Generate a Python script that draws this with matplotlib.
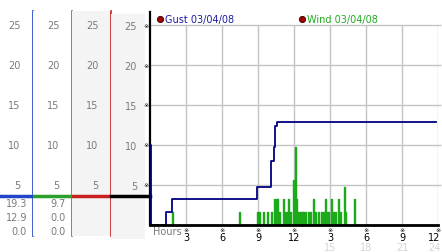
import numpy as np
import matplotlib.pyplot as plt

# pixel size of the original picture
W, H = 442, 253

# axis ticks
y_ticks = [5, 10, 15, 20, 25]
hour_ticks = [3, 6, 9, 12, 15, 18, 21, 24]
hour_labels = ['3', '6', '9', '12', '3', '6', '9', '12']
hour_labels2 = ['', '', '', '', '15', '18', '21', '24']

# gust series (hours, value), stepped
gust_t = [0.0, 0.05, 1.35, 1.8, 8.9, 10.1, 10.3, 10.45, 10.6, 23.8]
gust_v = [10.0, 0.0, 1.6, 3.2, 4.8, 8.0, 9.7, 12.4, 12.9, 12.9]

# wind spikes (hours, value)
wind_t = [1.86, 7.44, 8.94, 9.11, 9.44, 9.78, 10.06, 10.36, 10.5, 10.61, 10.78,
          11.06, 11.19, 11.33, 11.53, 11.67, 11.94, 12.06, 12.17, 12.36, 12.5,
          12.64, 12.78, 12.92, 13.19, 13.33, 13.61, 13.78, 14.03, 14.25, 14.39,
          14.58, 14.72, 14.86, 15.06, 15.22, 15.42, 15.69, 15.83, 16.17, 16.25,
          17.03]
wind_v = [1.6, 1.6, 1.6, 1.6, 1.6, 1.6, 1.6, 3.2, 3.2, 3.2, 1.6,
          3.2, 1.6, 1.6, 3.2, 1.6, 5.6, 9.7, 3.2, 1.6, 1.6,
          1.6, 1.6, 1.6, 1.6, 1.6, 3.2, 1.6, 1.6, 1.6, 1.6,
          3.2, 1.6, 1.6, 3.2, 1.6, 1.6, 3.2, 1.6, 4.8, 1.6,
          3.2]

stats_gust = ['19.3', '12.9', '0.0']
stats_wind = ['9.7', '0.0', '0.0']
stats_y = [2.75, 1.0, -0.75]
title_gust = 'Gust 03/04/08'
title_wind = 'Wind 03/04/08'

label_gray = '#7a7a7a'
panel_gray = '#f4f4f4'
grid_gray = '#c4c4c4'
fs = 7


def fx(px):
    return px / W


def fy(py):
    return 1 - py / H


fig = plt.figure(figsize=(W / 100, H / 100), dpi=100)

# colonnes de gauche (echelles)
ylo, yhi = -11 / 8, 214 / 8
cols = [(0, 33, '#1f45c8', 'white'),
        (33, 72, '#2aa02a', 'white'),
        (72, 111, '#c82020', panel_gray)]
col_axes = []
for l, r, c, bg in cols:
    cax = fig.add_axes([fx(l), fy(237), fx(r) - fx(l), fy(12) - fy(237)])
    cax.set_xlim(0, 1)
    cax.set_ylim(ylo, yhi)
    cax.set_facecolor(bg)
    for s in ['top', 'left', 'bottom']:
        cax.spines[s].set_visible(False)
    cax.spines['right'].set_color(c)
    cax.spines['right'].set_linewidth(1.2)
    cax.set_xticks([])
    cax.set_yticks([])
    for v in y_ticks:
        cax.text(1 - 12.5 / (r - l), v, str(v), ha='right', va='center',
                 fontsize=fs, color=label_gray)
    cax.axhline(3.6, color=c, lw=2.5)
    col_axes.append(cax)

for i, (vals, (l, r, c, bg)) in enumerate(zip([stats_gust, stats_wind], cols[:2])):
    for txt, yv in zip(vals, stats_y):
        col_axes[i].text(1 - 6 / (r - l), yv, txt, ha='right', va='center',
                         fontsize=fs, color=label_gray)

ax4 = fig.add_axes([fx(111), fy(240), fx(145) - fx(111), fy(15) - fy(240)])
ax4.set_xlim(0, 1)
ax4.set_ylim(-14 / 8, 211 / 8)
ax4.set_facecolor(panel_gray)
for s in ax4.spines.values():
    s.set_visible(False)
ax4.set_xticks([])
ax4.set_yticks([])
ax4.plot([0, 39 / 34], [3.6, 3.6], color='black', lw=2.5, clip_on=False)

# graphique principal
ax = fig.add_axes([fx(150), fy(226), fx(438) - fx(150), fy(13) - fy(226)])
ax.set_xlim(0, 24)
ax.set_ylim(0, 213 / 8)
ax.patch.set_alpha(0)

ax.hlines(y_ticks, 0, 24.25, color=grid_gray, lw=1, zorder=1, clip_on=False)
ax.vlines(hour_ticks, 0, 25, color=grid_gray, lw=1, zorder=1)

# vent : impulsions etroites
wx, wy = [0.0], [0.0]
for t, v in zip(wind_t, wind_v):
    wx += [t, t, t + 0.08, t + 0.08]
    wy += [0, v, v, 0]
wx.append(23.8)
wy.append(0)
ax.plot(wx, wy, color='#1aaa1a', lw=1, zorder=2, clip_on=False)

ax.plot(gust_t, gust_v, drawstyle='steps-post', color='#000080', lw=1.3, zorder=3)

for s in ['top', 'right']:
    ax.spines[s].set_visible(False)
ax.spines['left'].set_linewidth(1.6)
ax.spines['bottom'].set_linewidth(2)
ax.spines['bottom'].set_zorder(4)

ax.set_yticks(y_ticks, [str(v) for v in y_ticks])
ax.tick_params(axis='y', length=0, pad=9.3, labelsize=fs, labelcolor=label_gray)
ax.set_xticks([])

for t, lab, lab2 in zip(hour_ticks, hour_labels, hour_labels2):
    # la derniere etiquette est calee a droite pour rester dans l'image
    if t == hour_ticks[-1]:
        xt, ha = t + 0.2, 'right'
    else:
        xt, ha = t, 'center'
    ax.text(xt, -1.5, lab, ha=ha, va='center', fontsize=fs, color='black')
    if lab2:
        ax.text(xt, -2.75, lab2, ha=ha, va='center', fontsize=fs,
                color='#d4d4d4')
    ax.text(t, -0.55, '\u203b', ha='center', va='center', fontsize=4.5,
            color='black')
for v in y_ticks:
    ax.text(-0.33, v, '\u203b', ha='center', va='center', fontsize=4.5,
            color='black')

ax.text(0.25, -0.75, 'Hours', ha='left', va='center', fontsize=fs,
        color=label_gray)

# legendes
ax.plot([0.83], [25.75], 'o', ms=4.5, mfc='#a00000', mec='#300000', mew=0.6,
        clip_on=False)
ax.text(1.25, 25.75, title_gust, ha='left', va='center', fontsize=fs,
        color='#1a1aa6')
ax.plot([12.68], [25.75], 'o', ms=4.5, mfc='#a00000', mec='#300000', mew=0.6,
        clip_on=False)
ax.text(13.1, 25.75, title_wind, ha='left', va='center', fontsize=fs,
        color='#22aa22')

fig.savefig('out.png', dpi=100)
